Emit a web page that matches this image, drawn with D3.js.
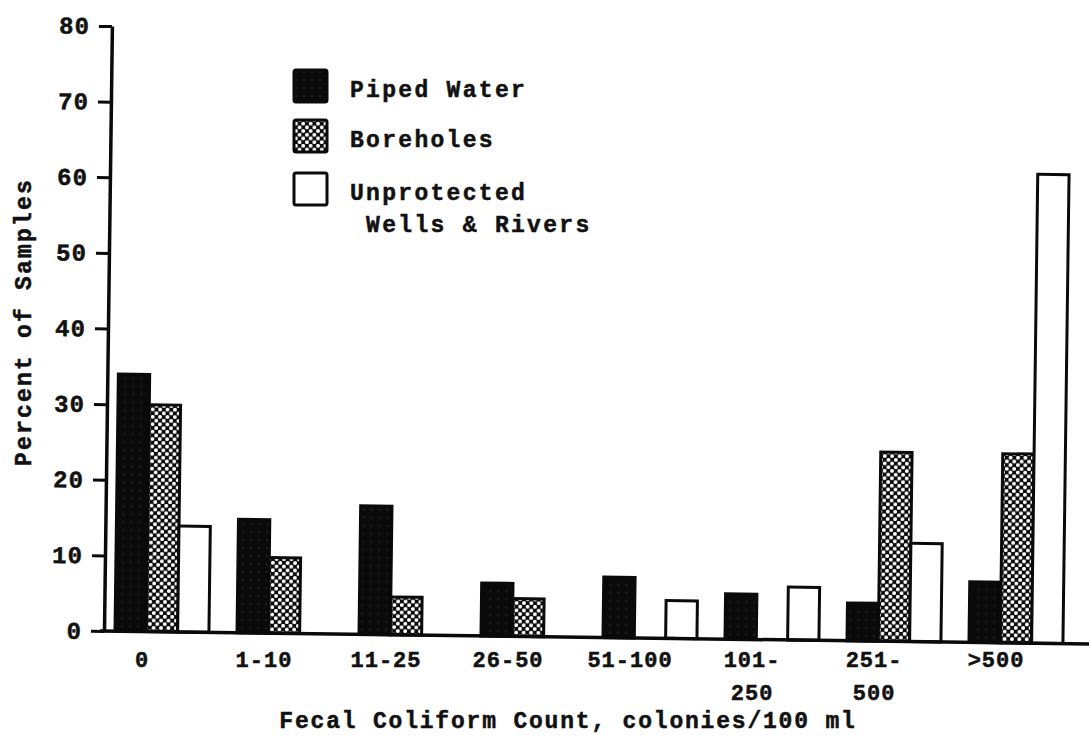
<!DOCTYPE html>
<html>
<head>
<meta charset="utf-8">
<script src="https://cdn.jsdelivr.net/npm/d3@7"></script>
<style>
  body { margin: 0; background: #fff; }
  text { font-family: "Liberation Mono", "DejaVu Sans Mono", monospace; font-weight: bold; fill: #111; stroke: #111; stroke-width: 0.5px; }
</style>
</head>
<body>
<svg id="chart"></svg>
<script>
// data
var categories = ["0", "1-10", "11-25", "26-50", "51-100", "101-250", "251-500", ">500"];
var tickLines = [["0"], ["1-10"], ["11-25"], ["26-50"], ["51-100"], ["101-", "250"], ["251-", "500"], [">500"]];
var seriesNames = ["Piped Water", "Boreholes", "Unprotected Wells & Rivers"];
var piped = [34, 15, 17, 7, 8, 6, 5, 8];
var boreholes = [30, 10, 5, 5, 0, 0, 25, 25];
var unprotected = [14, 0, 0, 0, 5, 7, 13, 62];
var yTicks = [0, 10, 20, 30, 40, 50, 60, 70, 80];

var width = 1089, height = 740;
var axisX = 104, baseY = 631;

var svg = d3.select("#chart")
	.attr("width", width)
	.attr("height", height);

svg.append("rect").attr("width", width).attr("height", height).attr("fill", "#fff");

// fills: dark halftone, dotted crosshatch, plain white
var defs = svg.append("defs");
var pp = defs.append("pattern").attr("id", "pat-piped")
	.attr("patternUnits", "userSpaceOnUse").attr("width", 8).attr("height", 8);
pp.append("rect").attr("width", 8).attr("height", 8).attr("fill", "#0a0a0a");
pp.append("circle").attr("cx", 2).attr("cy", 2).attr("r", 0.6).attr("fill", "#777");

var pb = defs.append("pattern").attr("id", "pat-bore")
	.attr("patternUnits", "userSpaceOnUse").attr("width", 7.4).attr("height", 7.4);
pb.append("rect").attr("width", 7.4).attr("height", 7.4).attr("fill", "#0a0a0a");
pb.append("circle").attr("cx", 1.85).attr("cy", 1.85).attr("r", 1.95).attr("fill", "#fff");
pb.append("circle").attr("cx", 5.55).attr("cy", 5.55).attr("r", 1.95).attr("fill", "#fff");

var fills = ["url(#pat-piped)", "url(#pat-bore)", "#fff"];
var seriesValues = [piped, boreholes, unprotected];

// scales
var x = d3.scaleBand()
	.domain(categories)
	.range([115, 1063])
	.paddingInner(0.23)
	.paddingOuter(0);
var xs = d3.scaleBand()
	.domain(d3.range(seriesNames.length))
	.range([0, x.bandwidth()]);
var y = d3.scaleLinear()
	.domain([0, 80])
	.range([baseY, 26]);

// the scanned figure is slightly rotated
var plot = svg.append("g")
	.attr("transform", "rotate(0.75," + axisX + "," + baseY + ")");

// bars
var rows = [];
categories.forEach(function(c, i) {
	seriesValues.forEach(function(vals, s) {
		if (vals[i] > 0) rows.push({cat: c, s: s, v: vals[i]});
	});
});

plot.selectAll(".bar")
	.data(rows)
	.enter().append("rect")
	.attr("class", "bar")
	.attr("x", function(d) { return x(d.cat) + xs(d.s); })
	.attr("width", xs.bandwidth())
	.attr("y", function(d) { return y(d.v); })
	.attr("height", function(d) { return baseY - y(d.v); })
	.attr("fill", function(d) { return fills[d.s]; })
	.attr("stroke", "#0a0a0a")
	.attr("stroke-width", 3);

// x baseline
plot.append("line")
	.attr("x1", axisX - 4).attr("x2", width + 10)
	.attr("y1", baseY).attr("y2", baseY)
	.attr("stroke", "#0a0a0a").attr("stroke-width", 3.5);

// y axis
var yAxis = plot.append("g")
	.attr("transform", "translate(" + axisX + ",0)")
	.call(d3.axisLeft(y).tickValues(yTicks).tickSize(13).tickSizeOuter(0).tickPadding(9));
yAxis.select(".domain").attr("stroke", "#0a0a0a").attr("stroke-width", 3.5);
yAxis.selectAll(".tick line").attr("stroke", "#0a0a0a").attr("stroke-width", 3);
yAxis.selectAll(".tick text")
	.style("font-size", "24px")
	.style("letter-spacing", "1px")
	.attr("font-family", null);

// x tick labels (not rotated), set left of each group's centre as in the figure
var xAxis = svg.append("g")
	.attr("transform", "translate(" + (27 - x.bandwidth() / 2) + "," + (baseY + 18) + ")")
	.call(d3.axisBottom(x).tickSize(0).tickFormat(""));
xAxis.select(".domain").remove();
xAxis.selectAll(".tick").each(function(d, i) {
	var t = d3.select(this).append("text")
		.attr("text-anchor", "middle")
		.style("font-size", "22px")
		.style("letter-spacing", "1px");
	tickLines[i].forEach(function(line, k) {
		t.append("tspan").attr("x", 0).attr("y", 18 + k * 33).text(line);
	});
});

// axis titles
svg.append("text")
	.attr("x", 568).attr("y", 728)
	.attr("text-anchor", "middle")
	.style("font-size", "23px")
	.style("letter-spacing", "1.8px")
	.text("Fecal Coliform Count, colonies/100 ml");

svg.append("text")
	.attr("transform", "translate(31,322) rotate(-90)")
	.attr("text-anchor", "middle")
	.style("font-size", "23px")
	.style("letter-spacing", "2.2px")
	.text("Percent of Samples");

// legend
var legend = svg.append("g").attr("transform", "translate(294,70)");
var legendRows = [{i: 0, y: 0, lines: ["Piped Water"]},
	{i: 1, y: 50, lines: ["Boreholes"]},
	{i: 2, y: 103, lines: ["Unprotected", " Wells & Rivers"]}];
legendRows.forEach(function(r) {
	legend.append("rect")
		.attr("x", 0).attr("y", r.y)
		.attr("width", 33).attr("height", 32)
		.attr("rx", 2)
		.attr("fill", fills[r.i])
		.attr("stroke", "#0a0a0a").attr("stroke-width", 3);
	var t = legend.append("text")
		.style("font-size", "23px")
		.style("letter-spacing", "2.3px")
		.style("white-space", "pre");
	r.lines.forEach(function(line, k) {
		t.append("tspan").attr("x", 56).attr("y", r.y + 27 + k * 32).text(line);
	});
});
</script>
</body>
</html>
